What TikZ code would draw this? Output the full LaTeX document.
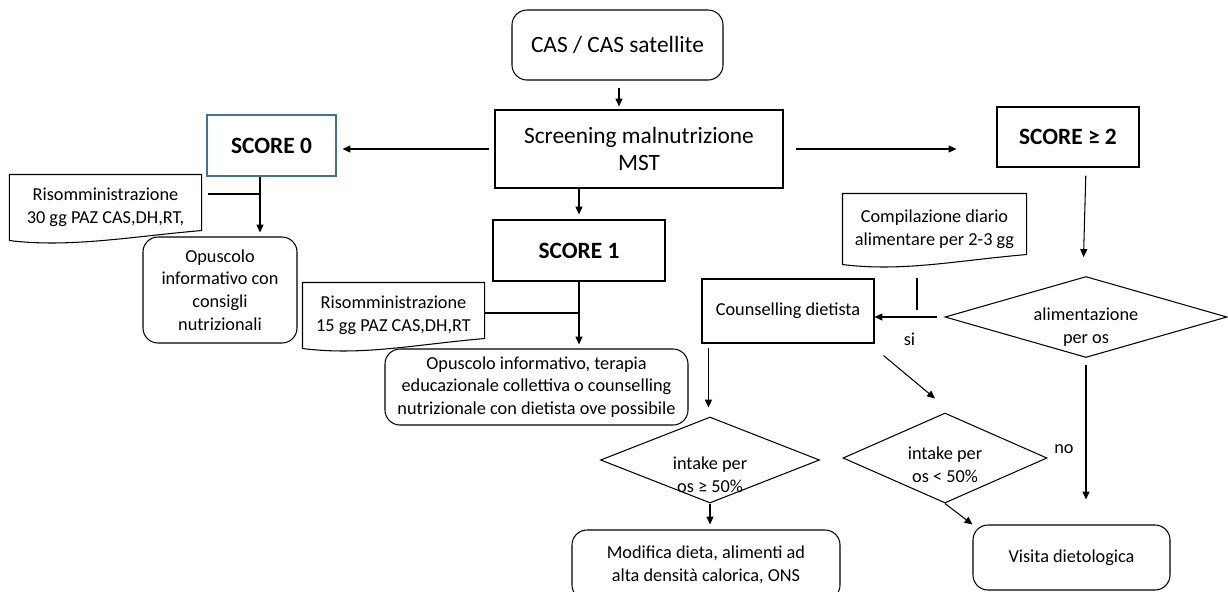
\documentclass[tikz,border=0pt]{standalone}
\usepackage{fontspec}
\setmainfont{Carlito}
\usetikzlibrary{arrows.meta,shapes.geometric}
\definecolor{scoreblue}{HTML}{41719C}

% outline of a document box: wavy bottom
\newcommand{\docshape}[1]{%
  \draw[line width=0.6pt] (#1.south west) -- (#1.north west) -- (#1.north east) -- ([yshift=0.2cm]#1.south east)
    .. controls +(-1.4,-0.12) and +(1.2,-0.15) .. (#1.south west);}

\begin{document}
\begin{tikzpicture}[
  base/.style={inner sep=0pt, align=center, line width=0.6pt},
  bigtxt/.style={font=\fontsize{13.3}{15}\selectfont},
  smalltxt/.style={font=\fontsize{10.4}{13}\selectfont},
  rectbox/.style={base, draw, rectangle},
  roundbox/.style={base, draw, rectangle, rounded corners=0.3cm},
  scorebox/.style={rectbox, font=\fontsize{13.3}{15}\selectfont\bfseries},
  docbox/.style={base, smalltxt},
  decision/.style={base, draw, diamond},
  arr/.style={-{Triangle[length=4.5pt,width=4pt]}, line width=0.6pt},
  joinline/.style={line width=1.1pt}
]
\useasboundingbox (0,0) rectangle (24.56,-11.82);
\clip (0,0) rectangle (24.56,-11.82);

% top
\node[roundbox, bigtxt, minimum width=4.22cm, minimum height=1.4cm] (cas) at (12.35,-0.9) {CAS / CAS satellite};
\node[rectbox, bigtxt, minimum width=5.76cm, minimum height=1.56cm] (screen) at (12.78,-2.98) {Screening malnutrizione\\MST};

% scores
\node[scorebox, draw=scoreblue, minimum width=2.58cm, minimum height=1.22cm] (score0) at (5.43,-2.91) {SCORE 0};
\node[scorebox, minimum width=3.44cm, minimum height=1.22cm] (score1) at (11.58,-5.01) {SCORE 1};
\node[scorebox, minimum width=2.84cm, minimum height=1.2cm] (score2) at (21.36,-2.74) {SCORE ≥ 2};

% score 0 branch
\node[docbox, minimum width=3.82cm, minimum height=1.3cm] (r30) at (2.11,-4.15) {Risomministrazione\\30 gg PAZ CAS,DH,RT,};
\docshape{r30}
\node[roundbox, smalltxt, minimum width=3.08cm, minimum height=2.12cm] (op0) at (4.4,-5.8) {Opuscolo\\informativo con\\consigli\\nutrizionali};

% score 1 branch
\node[docbox, minimum width=3.62cm, minimum height=1.3cm] (r15) at (7.87,-6.31) {Risomministrazione\\15 gg PAZ CAS,DH,RT};
\docshape{r15}
\node[roundbox, smalltxt, minimum width=6.06cm, minimum height=1.52cm] (op1) at (10.73,-7.74) {Opuscolo informativo, terapia\\educazionale collettiva o counselling\\nutrizionale con dietista ove possibile};

% score 2 branch
\node[docbox, minimum width=3.66cm, minimum height=1.4cm] (comp) at (18.69,-4.58) {Compilazione diario\\alimentare per 2-3 gg};
\docshape{comp}
\node[rectbox, smalltxt, minimum width=3.44cm, minimum height=1.28cm] (couns) at (15.76,-6.22) {Counselling dietista};
\node[decision, minimum width=5.64cm, minimum height=1.62cm,
  label={[smalltxt, align=center, yshift=-0.2cm]center:alimentazione\\per os}] (alim) at (21.72,-6.34) {};
\node[decision, minimum width=4.38cm, minimum height=1.72cm,
  label={[smalltxt, align=center, yshift=-0.3cm]center:intake per\\os ≥ 50\%}] (i50) at (14.2,-9.2) {};
\node[decision, minimum width=4.08cm, minimum height=1.8cm,
  label={[smalltxt, align=center, yshift=-0.13cm]center:intake per\\os < 50\%}] (ilt) at (18.9,-9.16) {};
\node[roundbox, smalltxt, minimum width=5.36cm, minimum height=1.4cm] (mod) at (14.12,-11.3) {Modifica dieta, alimenti ad\\alta densità calorica, ONS};
\node[roundbox, smalltxt, minimum width=3.94cm, minimum height=1.3cm] (visita) at (21.43,-11.15) {Visita dietologica};

% connectors
\draw[arr, shorten <=0.14cm, shorten >=0.06cm] ([xshift=0.03cm]cas.south) -- ([xshift=0.03cm]cas.south |- screen.north);
\draw[arr, shorten <=0.1cm, shorten >=0.12cm] (screen.west) -- (screen.west -| score0.east);
\draw[arr, shorten <=0.24cm, shorten >=0.8cm] (screen.east) -- (screen.east -| score2.west);
\draw[arr, shorten >=0.1cm] (score1.north |- screen.south) -- (score1.north);

\draw[arr, shorten >=0.08cm] ([xshift=-0.23cm]score0.south) coordinate (j0) -- (j0 |- op0.north);
\coordinate (r30e) at ([shift={(0.12,0.27)}]r30.east);
\draw[joinline] (r30e) -- (r30e -| j0);

\draw[arr, shorten >=0.08cm] (score1.south) -- (score1.south |- op1.north);
\coordinate (r15e) at ([yshift=0.05cm]r15.east);
\draw[joinline] (r15e) -- (r15e -| score1.south);

\draw[line width=0.9pt] ([shift={(-0.35,-0.26)}]comp.south) -- ++(0,-0.64);

\draw[arr, shorten <=0.16cm, shorten >=0.38cm] ([xshift=0.36cm]score2.south) -- ([xshift=-0.06cm]alim.north);
\draw[arr, shorten <=0.14cm] (alim.west) -- (alim.west -| couns.east) node[midway, below=0.2cm, smalltxt] (si) {si};
\draw[arr, shorten <=0.14cm, shorten >=0.5cm] (alim.south) -- (alim.south |- visita.north) node[pos=0.55, left=0.12cm, smalltxt] (no) {no};

\draw[arr, shorten <=0.08cm, shorten >=0.18cm] ([xshift=0.14cm]couns.south west) coordinate (c0) -- (c0 |- i50.north);
\draw[arr] ([shift={(0.18,-0.24)}]couns.south east) -- ([shift={(-0.2,0.28)}]ilt.north);
\draw[arr, shorten >=0.1cm] (i50.south) -- (i50.south |- mod.north);
\draw[arr] (ilt.south) -- (visita.north west);

\end{tikzpicture}
\end{document}
